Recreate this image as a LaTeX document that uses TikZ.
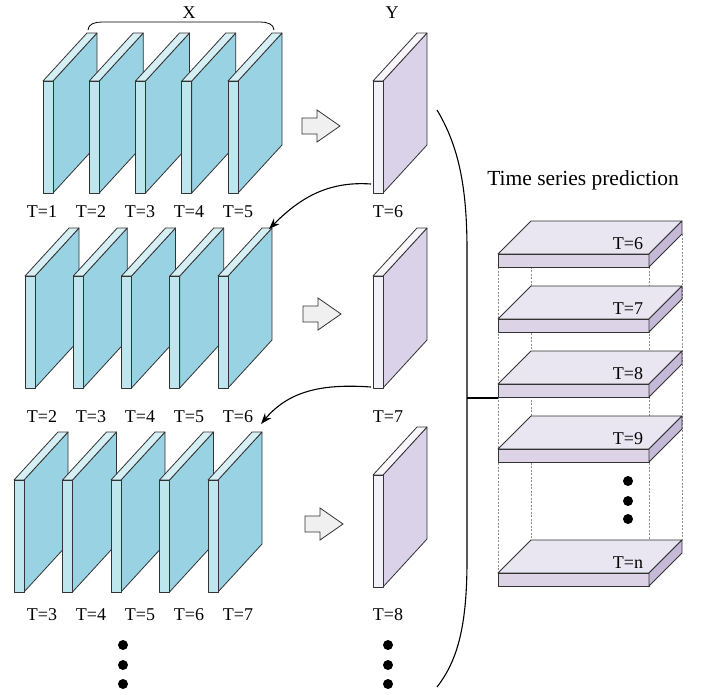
\documentclass[tikz,border=0pt]{standalone}
\usepackage{fontspec}
\setmainfont{Liberation Serif}
\usetikzlibrary{arrows.meta}

\definecolor{xface}{HTML}{99D3E3}
\definecolor{xfront}{HTML}{BEE6EF}
\definecolor{xtop}{HTML}{D6EFF5}
\definecolor{yface}{HTML}{DAD2E8}
\definecolor{yfront}{HTML}{F2F0F8}
\definecolor{ytop}{HTML}{F8F6FB}
\definecolor{stop}{HTML}{E9E5F1}
\definecolor{sfront}{HTML}{DCD4E6}
\definecolor{sside}{HTML}{C5B9D8}

% x, y of front top, front colour, top colour, face colour
\newcommand{\datapanel}[5]{%
 \filldraw[box, fill=#5] (#1+10,#2) -- ++(44,-48) -- ++(0,112) -- ++(-44,48) -- cycle;
 \filldraw[box, fill=#4] (#1,#2) -- ++(44,-48) -- ++(10,0) -- ++(-44,48) -- cycle;
 \filldraw[box, fill=#3] (#1,#2) rectangle ++(10,112);
}
% y of front top, label
\newcommand{\predslab}[2]{%
 \filldraw[box, fill=stop] (498,#1) -- (531,#1-33) -- (682,#1-33) -- (649,#1) -- cycle;
 \filldraw[box, fill=sfront] (498,#1) rectangle (649,#1+13);
 \filldraw[box, fill=sside] (649,#1) -- (682,#1-33) -- (682,#1-20) -- (649,#1+13) -- cycle;
 \node (t#2) at (628,#1-10) {T=#2};
}

\tikzset{
 box/.style={draw=black!80, line width=0.8pt, line join=round},
 link/.style={-{Stealth[length=11pt,width=8pt]}, line width=1.1pt},
 guide/.style={draw=black!45, line width=0.5pt, dash pattern=on 2pt off 1.5pt},
 fat/.style={draw=black!80, line width=0.8pt, fill=black!6}
}

\begin{document}
\begin{tikzpicture}[x=1pt, y=-1pt, every node/.style={font=\fontsize{18}{20}\selectfont}]
\useasboundingbox[fill=white] (0,0) rectangle (708,694);

% input windows and targets
\foreach \r/\xs/\dx/\yt/\ly/\yy in {0/43/46.25/81/212/81, 1/25/48.25/276/417/276, 2/14/48.5/480/615/475} {
 \foreach \i in {0,...,4} {
  \pgfmathsetmacro{\xx}{\xs+\dx*\i}
  \datapanel{\xx}{\yt}{xfront}{xtop}{xface}
  \pgfmathtruncatemacro{\t}{\r+\i+1}
  \node (l\r\i) at (42+49*\i,\ly) {T=\t};
 }
 \datapanel{373}{\yy}{yfront}{ytop}{yface}
 \pgfmathtruncatemacro{\t}{\r+6}
 \node (ly\r) at (388,\ly) {T=\t};
}

% fat arrows
\foreach \tx/\ty in {340/126, 341/314, 343/524} {
 \filldraw[fat] (\tx-38,\ty-8) -- (\tx-23,\ty-8) -- (\tx-23,\ty-16) -- (\tx,\ty)
  -- (\tx-23,\ty+16) -- (\tx-23,\ty+8) -- (\tx-38,\ty+8) -- cycle;
}

% brace over X
\draw[line width=0.8pt] (88,30) to[out=90,in=180] (102,22) -- (260,22) to[out=0,in=90] (274,30);
\node (X) at (189,13) {X};
\node (Y) at (392,13) {Y};

% feedback arrows
\coordinate (y0) at (371,184);
\coordinate (x1) at (269,229);
\coordinate (y1) at (371,387);
\coordinate (x2) at (261,424);
\draw[link] (y0) to[out=176,in=45] (x1);
\draw[link] (y1) to[out=176,in=50] (x2);

% dots
\foreach \px in {123,388} {
 \foreach \py in {645,665,684} \fill (\px,\py) circle (5pt);
}

% big bracket
\draw[line width=1.1pt] (437,110) .. controls (458,145) and (467,185) .. (467,250)
 -- (467,560) .. controls (467,625) and (458,660) .. (437,687);
\coordinate (br) at (467,398);

% prediction stack
\node (title) at (583,180) {\fontsize{21.5}{24}\selectfont Time series prediction};
\draw[guide] (498,267) -- (498,573);
\draw[guide] (531,221) -- (531,540);
\draw[guide] (649,267) -- (649,573);
\draw[guide] (682,234) -- (682,540);
\foreach \sy/\lab in {254/6, 319/7, 384/8, 449/9, 573/n} {
 \predslab{\sy}{\lab}
}
\coordinate (s8) at (498,398);
\draw[line width=1.1pt] (br) -- (s8);
\foreach \py in {481,501,519} \fill (628,\py) circle (5pt);
\end{tikzpicture}
\end{document}
